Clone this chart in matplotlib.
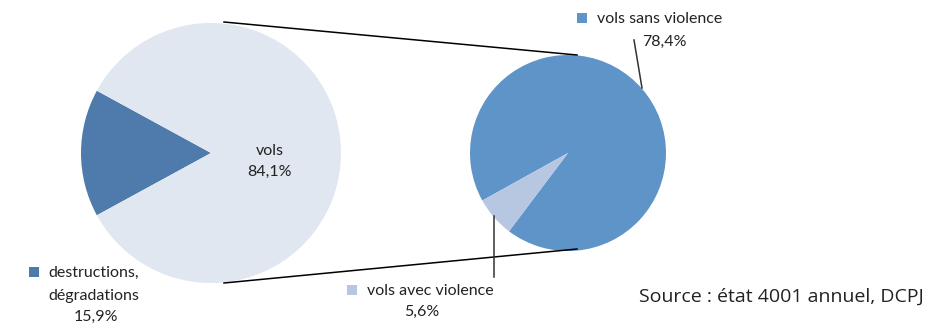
import matplotlib
matplotlib.use("Agg")
import matplotlib.pyplot as plt

# data
left_labels = ["destructions,\ndégradations", "vols"]
left_values = [15.9, 84.1]
right_labels = ["vols sans violence", "vols avec violence"]
right_values = [78.4, 5.6]
source = "Source : état 4001 annuel, DCPJ"

W, H = 928, 326
c_dark = "#4e7bab"
c_light = "#e0e7f0"
c_blue = "#5f94c9"
c_pale = "#b8c7e1"
txt = "#222222"

plt.rcParams['font.family'] = ['Lato', 'DejaVu Sans']


def Y(y):
    # image pixel row -> data y (origin at bottom)
    return H - y


fig = plt.figure(figsize=(W / 100, H / 100), dpi=100)
ax = fig.add_axes([0, 0, 1, 1])

# left pie, small slice centred on the left
start_left = 180 - left_values[0] / sum(left_values) * 360 / 2
ax.pie(left_values, colors=[c_dark, c_light], startangle=start_left,
       center=(211, Y(153)), radius=130, wedgeprops=dict(linewidth=0),
       frame=True)

# right pie (breakdown of vols)
ax.pie(right_values, colors=[c_blue, c_pale], startangle=233,
       center=(568, Y(153)), radius=98, wedgeprops=dict(linewidth=0),
       frame=True)
ax.set_xlim(0, W)
ax.set_ylim(0, H)
ax.set_aspect('equal')
ax.axis('off')

# connector lines
ax.plot([224, 577], [Y(22), Y(55)], color="black", lw=1.1)
ax.plot([224, 577], [Y(283), Y(249)], color="black", lw=1.1)

# leader lines
ax.plot([634, 642], [Y(40), Y(88)], color="#333333", lw=1.1)
ax.plot([494, 494], [Y(216), Y(277)], color="#333333", lw=1.1)

fs = 11.5
pct = lambda v: f"{v:.1f}%".replace(".", ",")

# vols label
ax.text(270, Y(151), "vols", ha="center", va="center", fontsize=fs, color=txt)
ax.text(270, Y(172), pct(left_values[1]), ha="center", va="center", fontsize=fs, color=txt)

# vols sans violence
ax.scatter([582], [Y(18)], marker="s", s=48, color=c_blue, linewidths=0)
ax.text(597, Y(19), right_labels[0], ha="left", va="center", fontsize=fs, color=txt)
ax.text(664, Y(42), pct(right_values[0]), ha="center", va="center", fontsize=fs, color=txt)

# vols avec violence
ax.scatter([352], [Y(290)], marker="s", s=48, color=c_pale, linewidths=0)
ax.text(367, Y(291), right_labels[1], ha="left", va="center", fontsize=fs, color=txt)
ax.text(422, Y(312), pct(right_values[1]), ha="center", va="center", fontsize=fs, color=txt)

# destructions
ax.scatter([34], [Y(272)], marker="s", s=48, color=c_dark, linewidths=0)
ax.text(48, Y(273), "destructions,", ha="left", va="center", fontsize=fs, color=txt)
ax.text(48, Y(296), "dégradations", ha="left", va="center", fontsize=fs, color=txt)
ax.text(96, Y(317), pct(left_values[0]), ha="center", va="center", fontsize=fs, color=txt)

# source
ax.text(924, Y(297), source, ha="right", va="center", fontsize=14,
        color=txt, family=['Open Sans', 'DejaVu Sans'])

fig.savefig("out.png", dpi=100)
